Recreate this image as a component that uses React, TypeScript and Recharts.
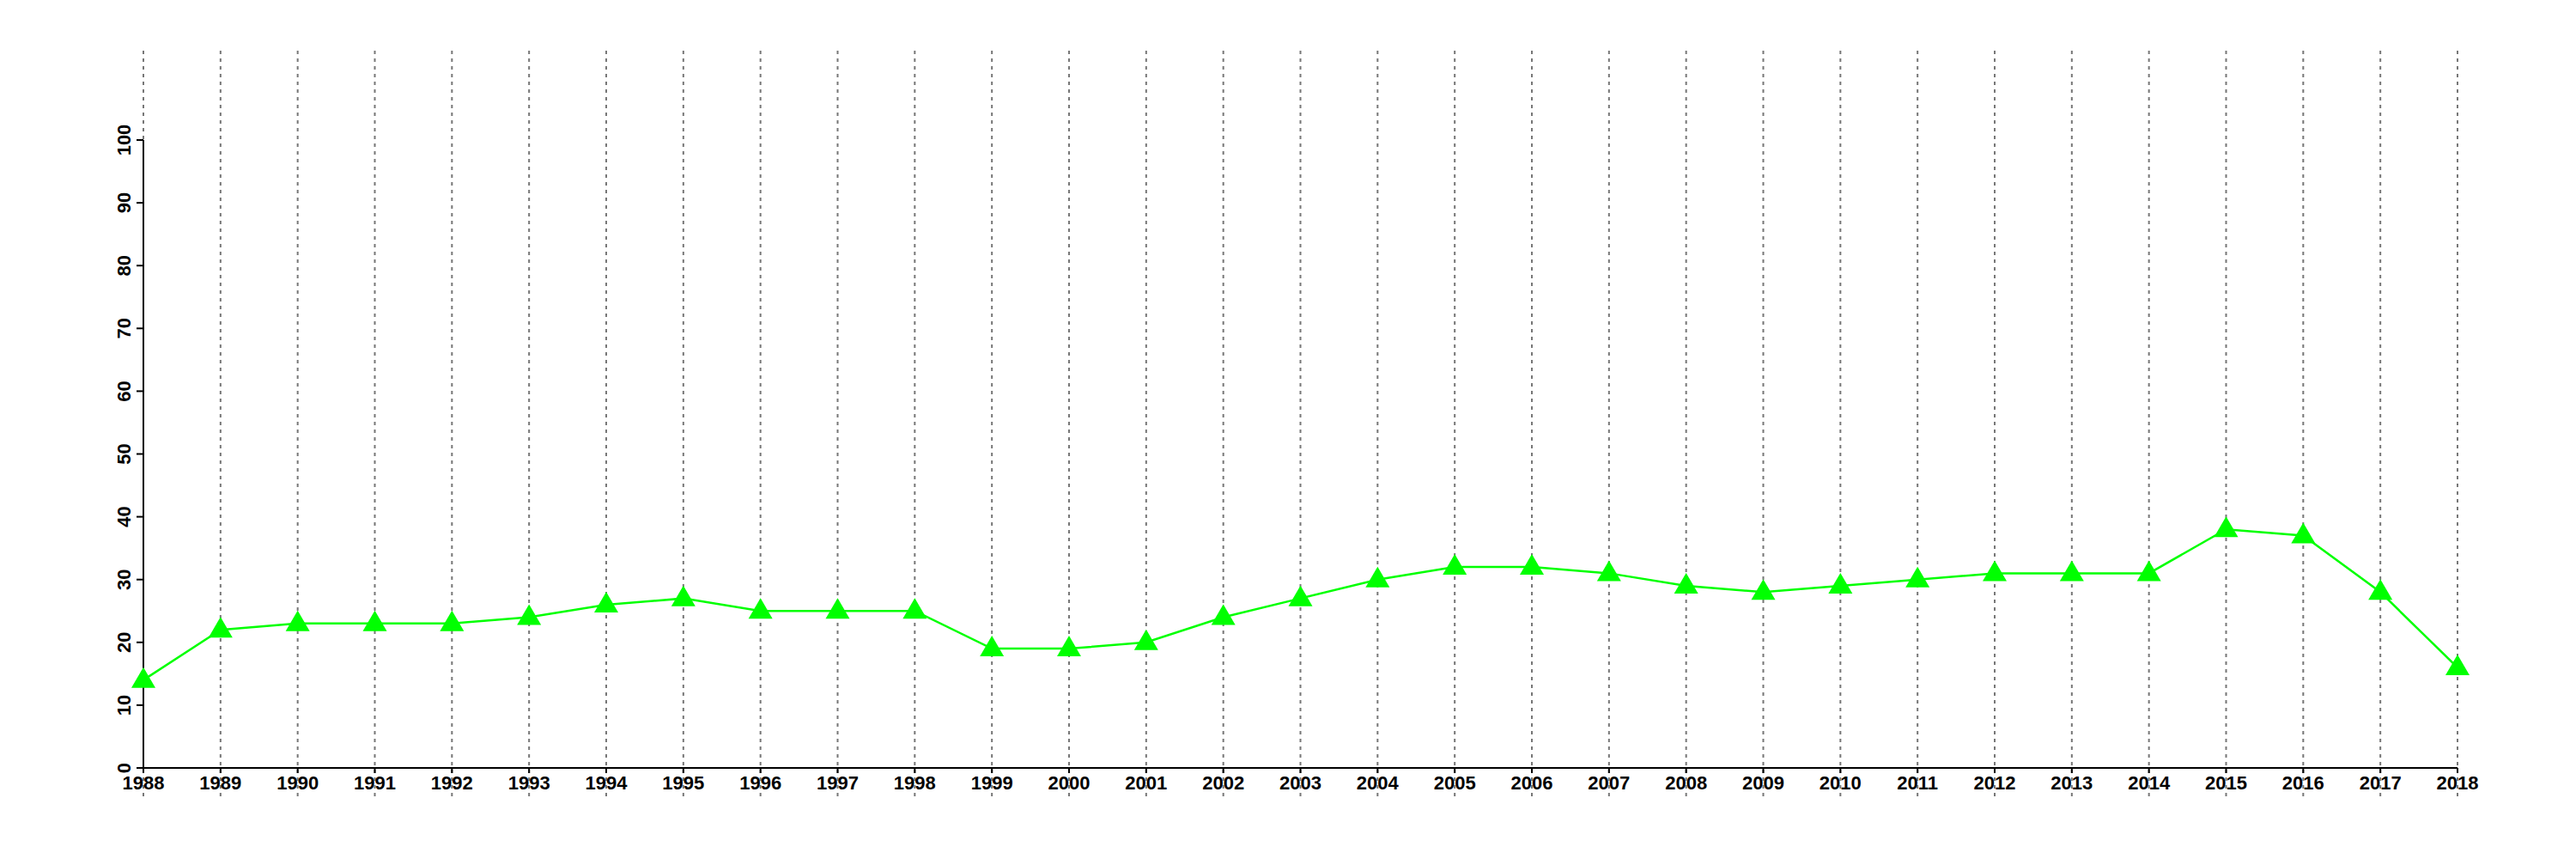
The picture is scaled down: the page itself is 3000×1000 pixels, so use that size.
import React from "react";
import { LineChart, Line, XAxis, YAxis, CartesianGrid } from "recharts";

const years = [
  1988, 1989, 1990, 1991, 1992, 1993, 1994, 1995, 1996, 1997, 1998, 1999, 2000,
  2001, 2002, 2003, 2004, 2005, 2006, 2007, 2008, 2009, 2010, 2011, 2012, 2013,
  2014, 2015, 2016, 2017, 2018,
];
const values = [
  14, 22, 23, 23, 23, 24, 26, 27, 25, 25, 25, 19, 19, 20, 24, 27, 30, 32, 32, 31,
  29, 28, 29, 30, 31, 31, 31, 38, 37, 28, 16,
];
const yTicks = [0, 10, 20, 30, 40, 50, 60, 70, 80, 90, 100];

const data = years.map((year, i) => ({ year, value: values[i] }));

const FONT = "'Liberation Sans', Arial, Helvetica, sans-serif";

const Triangle = (props: any) => {
  const { cx, cy } = props;
  if (cx == null || cy == null) return null;
  const pts = `${cx},${cy - 15} ${cx - 14},${cy + 9} ${cx + 14},${cy + 9}`;
  return <polygon points={pts} fill="#00ff00" stroke="none" />;
};

const GridLine = (props: any) => {
  const { x1, x2, y1, y2, key } = props;
  return (
    <line
      key={key}
      x1={x1}
      x2={x2}
      y1={y1 - 104}
      y2={y2 + 33}
      stroke="#777777"
      strokeWidth={2}
      strokeDasharray="4 5"
    />
  );
};

const YTick = (props: any) => {
  const { x, y, payload } = props;
  return (
    <text
      x={x}
      y={y}
      transform={`rotate(-90, ${x}, ${y})`}
      textAnchor="middle"
      fontFamily={FONT}
      fontWeight="bold"
      fontSize={22}
      fill="#000"
    >
      {payload.value}
    </text>
  );
};

export default function App() {
  return (
    <div style={{ width: 3000, height: 1000, background: "#fff" }}>
      <style>{`body{margin:0;}`}</style>
      <LineChart
        width={3000}
        height={1000}
        data={data}
        margin={{ top: 163, right: 138, bottom: 76, left: 107 }}
      >
        <CartesianGrid horizontal={false} vertical={GridLine as any} />
        <XAxis
          dataKey="year"
          type="number"
          domain={[1988, 2018]}
          ticks={years}
          interval={0}
          height={30}
          tickSize={6}
          tickMargin={3}
          axisLine={{ stroke: "#000", strokeWidth: 2 }}
          tickLine={{ stroke: "#000", strokeWidth: 2 }}
          tick={{ fontFamily: FONT, fontWeight: "bold", fontSize: 22, fill: "#000" }}
        />
        <YAxis
          type="number"
          domain={[0, 100]}
          ticks={yTicks}
          interval={0}
          width={60}
          tickSize={8}
          tickMargin={7}
          axisLine={{ stroke: "#000", strokeWidth: 2 }}
          tickLine={{ stroke: "#000", strokeWidth: 2 }}
          tick={<YTick />}
        />
        <Line
          type="linear"
          dataKey="value"
          stroke="#00ff00"
          strokeWidth={2.5}
          dot={<Triangle />}
          activeDot={false}
          isAnimationActive={false}
        />
      </LineChart>
    </div>
  );
}
